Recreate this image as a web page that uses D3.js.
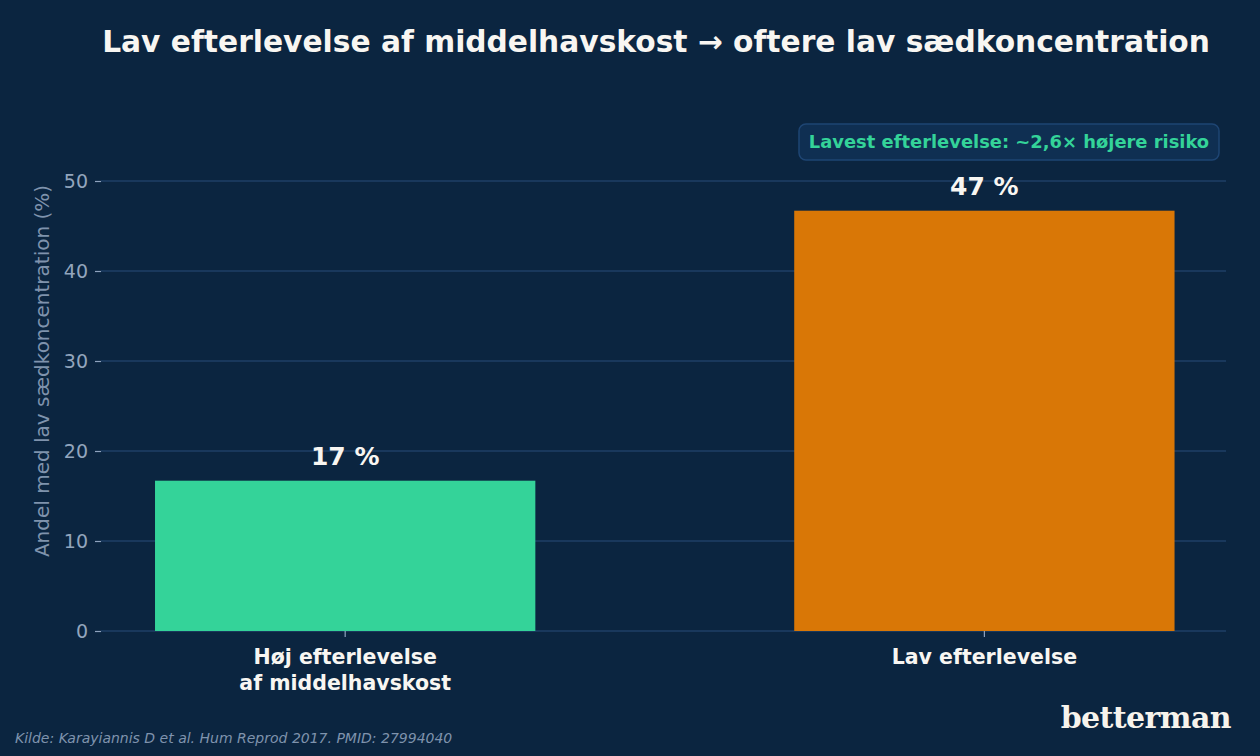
<!DOCTYPE html>
<html><head><meta charset="utf-8">
<script src="https://cdn.jsdelivr.net/npm/d3@7"></script>
<style>html,body{margin:0;padding:0;background:#0b2540;}svg{display:block;}</style>
</head><body>
<svg id="c" width="1260" height="756"></svg>
<script>
const categories = ["Høj efterlevelse\naf middelhavskost", "Lav efterlevelse"];
const values = [16.7, 46.7];
const valueLabels = ["17 %", "47 %"];
const barColors = ["#34d399", "#d97706"];
const yTicks = [0, 10, 20, 30, 40, 50];
const title = "Lav efterlevelse af middelhavskost → oftere lav sædkoncentration";
const yLabel = "Andel med lav sædkoncentration (%)";
const annotation = "Lavest efterlevelse: ~2,6× højere risiko";
const source = "Kilde: Karayiannis D et al. Hum Reprod 2017. PMID: 27994040";

const svg = d3.select("#c");
const W = 1260, H = 756;
svg.append("rect").attr("width", W).attr("height", H).attr("fill", "#0b2540");
const font = "DejaVu Sans, sans-serif";
const L = 101, R = 1226, B = 631;
const x = d3.scaleLinear().domain([-0.382, 1.378]).range([L, R]);
const y = d3.scaleLinear().domain([0, 55]).range([B, B - 55 * 9]);
const bw = 0.595;

// grid
svg.append("g").selectAll("line").data(yTicks).join("line")
  .attr("x1", L).attr("x2", R).attr("y1", d => y(d)).attr("y2", d => y(d))
  .attr("stroke", "#1f3f66").attr("stroke-width", 1.6);

// y axis
const ya = svg.append("g").attr("transform", `translate(${L},0)`)
  .call(d3.axisLeft(y).tickValues(yTicks).tickSize(6).tickPadding(7));
ya.select(".domain").remove();
ya.selectAll("line").attr("stroke", "#8fa3bf").attr("stroke-width", 1.2);
ya.selectAll("text").attr("fill", "#93a5bd").style("font-family", font).style("font-size", "19px");

// x ticks
svg.append("g").selectAll("line").data(categories).join("line")
  .attr("x1", (d, i) => x(i)).attr("x2", (d, i) => x(i))
  .attr("y1", B).attr("y2", B + 6).attr("stroke", "#8fa3bf").attr("stroke-width", 1.2);

// bars
svg.append("g").selectAll("rect").data(values).join("rect")
  .attr("x", (d, i) => x(i - bw / 2)).attr("width", (d, i) => x(i + bw / 2) - x(i - bw / 2))
  .attr("y", d => y(d)).attr("height", d => B - y(d))
  .attr("fill", (d, i) => barColors[i]);

// value labels
svg.append("g").selectAll("text").data(values).join("text")
  .attr("x", (d, i) => x(i)).attr("y", d => y(d) - 16)
  .attr("text-anchor", "middle").attr("fill", "#f8f6f2")
  .style("font-family", font).style("font-weight", "bold").style("font-size", "25px")
  .text((d, i) => valueLabels[i]);

// category labels
categories.forEach((c, i) => {
  const t = svg.append("text").attr("x", x(i)).attr("y", 664)
    .attr("text-anchor", "middle").attr("fill", "#f8f6f2")
    .style("font-family", font).style("font-weight", "bold").style("font-size", "20.5px");
  c.split("\n").forEach((ln, j) => t.append("tspan").attr("x", x(i)).attr("dy", j ? 26 : 0).text(ln));
});

// y label
svg.append("text").attr("transform", `translate(49,${371}) rotate(-90)`)
  .attr("text-anchor", "middle").attr("fill", "#7f93ad")
  .style("font-family", font).style("font-size", "20px").text(yLabel);

// title
svg.append("text").attr("x", 656).attr("y", 52).attr("text-anchor", "middle")
  .attr("fill", "#f8f6f2").style("font-family", font).style("font-weight", "bold")
  .style("font-size", "29.7px").text(title);

// annotation
svg.append("rect").attr("x", 799).attr("y", 124).attr("width", 420).attr("height", 36)
  .attr("rx", 7).attr("fill", "#0f2f52").attr("stroke", "#1e4573").attr("stroke-width", 1.5);
svg.append("text").attr("x", 1009).attr("y", 148).attr("text-anchor", "middle")
  .attr("fill", "#34d399").style("font-family", font).style("font-weight", "bold")
  .style("font-size", "17.9px").text(annotation);

// source
svg.append("text").attr("x", 15).attr("y", 743).attr("fill", "#7f93ad")
  .style("font-family", font).style("font-style", "italic").style("font-size", "14px").text(source);

// logo
svg.append("text").attr("x", 1231).attr("y", 728).attr("text-anchor", "end")
  .attr("fill", "#f7f3ec").style("font-family", "DejaVu Serif, serif").style("font-weight", "bold")
  .style("font-size", "30px").style("letter-spacing", "-0.6px").text("betterman");
</script>
</body></html>
